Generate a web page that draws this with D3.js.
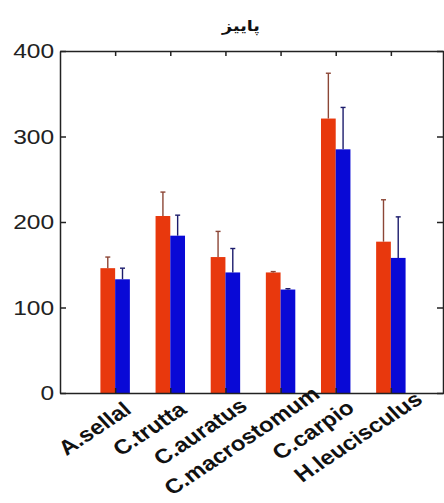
<!DOCTYPE html>
<html>
<head>
<meta charset="utf-8">
<script src="https://cdnjs.cloudflare.com/ajax/libs/d3/7.8.5/d3.min.js"></script>
<style>
  body { margin: 0; background: #fff; }
  svg { display: block; }
</style>
</head>
<body>
<svg id="canvas"></svg>
<script>
// species and means
let species = ["A.sellal", "C.trutta", "C.auratus", "C.macrostomum", "C.carpio", "H.leucisculus"];
let redValues = [146, 207, 159, 141, 321, 177];
let blueValues = [133, 184, 141, 121, 285, 158];
// error bars (upper part only)
let redErrors = [13, 28, 30, 1, 53, 49];
let blueErrors = [13, 24, 28, 1, 49, 48];
let yTicks = [0, 100, 200, 300, 400];
let title = "پاییز";

let width = 444,
  height = 503;
// note: "top" clashes with window.top, so prefix these
let plotLeft = 60,
  plotRight = 443,
  plotTop = 51,
  plotBottom = 393;

// the source figure looks stretched sideways, text too
let stretch = 1.17;

let redColor = "#e8380d",
  blueColor = "#0909d6";

let xScale, yScale;

let canvas = d3.select("#canvas").attr("width", width).attr("height", height);

let generateScales = () => {
  // categories sit at 1..6 on a 0..7 axis, like a matlab bar plot
  xScale = d3.scaleLinear().domain([0, 7]).range([plotLeft, 446]);
  yScale = d3.scaleLinear().domain([0, 400]).range([plotBottom, plotTop]);
};

let barWidth = () => (xScale(1) - xScale(0)) * 0.267;

let drawBars = () => {
  let bw = barWidth();
  let series = [
    { values: redValues, errors: redErrors, color: redColor, err: "#8c4636", shift: -1 },
    { values: blueValues, errors: blueErrors, color: blueColor, err: "#1c1c6c", shift: 0 },
  ];

  series.forEach((s) => {
    let g = canvas.append("g");

    g.selectAll("rect")
      .data(s.values)
      .enter()
      .append("rect")
      .attr("x", (d, i) => xScale(i + 1) + s.shift * bw)
      .attr("y", (d) => yScale(d))
      .attr("width", bw)
      .attr("height", (d) => yScale(0) - yScale(d))
      .attr("fill", s.color);

    // error bar stem + little cap
    let eg = g.selectAll(".err")
      .data(s.values)
      .enter()
      .append("g")
      .attr("class", "err")
      .attr("stroke", s.err)
      .attr("stroke-width", 1.4);

    eg.append("line")
      .attr("x1", (d, i) => xScale(i + 1) + s.shift * bw + bw / 2)
      .attr("x2", (d, i) => xScale(i + 1) + s.shift * bw + bw / 2)
      .attr("y1", (d) => yScale(d))
      .attr("y2", (d, i) => yScale(d + s.errors[i]));

    eg.append("line")
      .attr("x1", (d, i) => xScale(i + 1) + s.shift * bw + bw / 2 - 2.5)
      .attr("x2", (d, i) => xScale(i + 1) + s.shift * bw + bw / 2 + 2.5)
      .attr("y1", (d, i) => yScale(d + s.errors[i]))
      .attr("y2", (d, i) => yScale(d + s.errors[i]));
  });
};

let drawAxes = () => {
  let cats = species.map((d, i) => i + 1);

  let yAxis = d3.axisLeft(yScale).tickValues(yTicks).tickSizeInner(-6).tickSizeOuter(0).tickPadding(5);
  let yAxisRight = d3.axisRight(yScale).tickValues(yTicks).tickSizeInner(-6).tickSizeOuter(0).tickFormat("");
  let xAxisTop = d3.axisTop(xScale).tickValues(cats).tickSizeInner(-5).tickSizeOuter(0).tickFormat("");
  let xAxisBottom = d3.axisBottom(xScale).tickValues(cats).tickSizeInner(-5).tickSizeOuter(0).tickFormat("");

  canvas.append("g").attr("transform", "translate(0," + plotBottom + ")").call(xAxisBottom);
  canvas.append("g").attr("transform", "translate(0," + plotTop + ")").call(xAxisTop);
  canvas.append("g").attr("transform", "translate(" + plotRight + ",0)").call(yAxisRight);
  canvas.append("g").attr("id", "y-axis").attr("transform", "translate(" + plotLeft + ",0)").call(yAxis);

  canvas.selectAll(".domain, .tick line").attr("stroke", "#222").attr("stroke-width", 1.5);
  canvas.selectAll("#y-axis text")
    .attr("font-family", "'Liberation Sans', Arial, sans-serif")
    .attr("font-size", 21)
    .attr("transform", "scale(" + stretch + ",1)")
    .attr("fill", "#222");

  // rotated category names
  let labels = canvas.append("g")
    .selectAll("text")
    .data(species)
    .enter()
    .append("text")
    .attr("transform", (d, i) =>
      "translate(" + (xScale(i + 1) - 6) + "," + (plotBottom + 26) + ") scale(" + stretch + ",1) rotate(-38)")
    .attr("text-anchor", "middle")
    .attr("dominant-baseline", "central")
    .attr("font-family", "'Liberation Sans', Arial, sans-serif")
    .attr("font-weight", "bold")
    .attr("font-size", 20.5)
    .attr("fill", "#111")
    .text((d) => d);

  // names hang down-left from a point ~22% in from their end
  labels.attr("x", function () {
    return -0.22 * this.getComputedTextLength();
  });

  canvas.append("text")
    .attr("transform", "translate(241,31) scale(" + stretch + ",1)")
    .attr("text-anchor", "middle")
    .attr("font-family", "'DejaVu Sans', sans-serif")
    .attr("font-weight", "bold")
    .attr("font-size", 15)
    .attr("fill", "#111")
    .text(title);
};

generateScales();
drawBars();
drawAxes();
</script>
</body>
</html>
